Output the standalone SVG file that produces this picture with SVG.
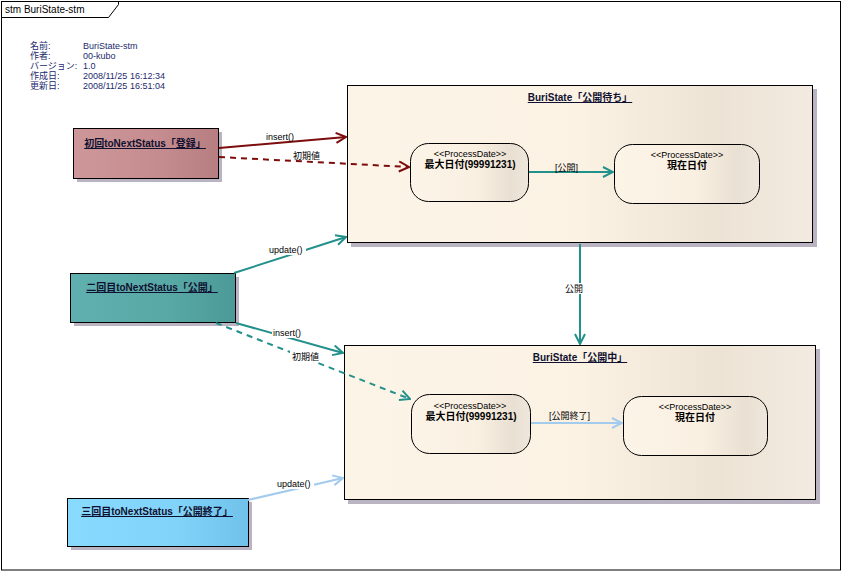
<svg xmlns="http://www.w3.org/2000/svg" width="842" height="572" viewBox="0 0 842 572">
  <defs>
    <style>
      text { font-family: "Liberation Sans", "Noto Sans CJK JP", sans-serif; font-size: 9px; fill: #000; }
      .meta { fill: #1c2a6e; font-size: 9px; }
      .title { font-weight: bold; font-size: 10px; text-decoration: underline; fill: #101030; }
      .stereo { font-size: 9px; text-anchor: middle; }
      .sname { font-weight: bold; font-size: 10px; text-anchor: middle; }
      .lbl { font-size: 9px; }
      .frame { fill: none; stroke: #000; stroke-width: 1; }
      .shadow { fill: #b9b3c2; }
      .box { stroke: #000; stroke-width: 1; }
      .state { stroke: #000; stroke-width: 1; }
      .red { stroke: #7d0c0c; stroke-width: 2; fill: none; }
      .teal { stroke: #22908b; stroke-width: 2; fill: none; }
      .sky { stroke: #a2cbee; stroke-width: 2; fill: none; }
      .dash { stroke-dasharray: 6 5; }
    </style>
    <linearGradient id="gPink" x1="0" y1="0" x2="1" y2="0">
      <stop offset="0" stop-color="#cd979a"/>
      <stop offset="0.6" stop-color="#c58c8f"/>
      <stop offset="1" stop-color="#b67e81"/>
    </linearGradient>
    <linearGradient id="gTeal" x1="0" y1="0" x2="1" y2="0">
      <stop offset="0" stop-color="#5fb0ae"/>
      <stop offset="0.6" stop-color="#58a8a6"/>
      <stop offset="1" stop-color="#4c9a98"/>
    </linearGradient>
    <linearGradient id="gSky" x1="0" y1="0" x2="1" y2="0">
      <stop offset="0" stop-color="#88daff"/>
      <stop offset="0.6" stop-color="#82d3fa"/>
      <stop offset="1" stop-color="#70c2ea"/>
    </linearGradient>
    <linearGradient id="gCream" x1="0" y1="0" x2="1" y2="0">
      <stop offset="0" stop-color="#fcf4e7"/>
      <stop offset="0.5" stop-color="#fbf2e4"/>
      <stop offset="0.8" stop-color="#ede3d5"/>
      <stop offset="1" stop-color="#f3ebe1"/>
    </linearGradient>
    <linearGradient id="gInner" x1="0" y1="0" x2="1" y2="0">
      <stop offset="0" stop-color="#fcf4e7"/>
      <stop offset="0.55" stop-color="#f9f0e2"/>
      <stop offset="0.85" stop-color="#e9e0d3"/>
      <stop offset="1" stop-color="#efe7dc"/>
    </linearGradient>
    <marker id="arRed" viewBox="0 0 12 12" refX="11" refY="6" markerWidth="12" markerHeight="12" markerUnits="userSpaceOnUse" orient="auto">
      <path d="M1,1 L11,6 L1,11" fill="none" stroke="#7d0c0c" stroke-width="2"/>
    </marker>
    <marker id="arTeal" viewBox="0 0 12 12" refX="11" refY="6" markerWidth="12" markerHeight="12" markerUnits="userSpaceOnUse" orient="auto">
      <path d="M1,1 L11,6 L1,11" fill="none" stroke="#22908b" stroke-width="2"/>
    </marker>
    <marker id="arSky" viewBox="0 0 12 12" refX="11" refY="6" markerWidth="12" markerHeight="12" markerUnits="userSpaceOnUse" orient="auto">
      <path d="M1,1 L11,6 L1,11" fill="none" stroke="#a2cbee" stroke-width="2"/>
    </marker>
  </defs>

  <rect width="842" height="572" fill="#fff"/>

  <!-- diagram frame and name tab -->
  <g id="frame">
    <rect class="frame" x="1.5" y="1.5" width="839" height="568.5"/>
    <path class="frame" d="M1.5,17.5 H108.5 L118.5,4.5 V1.5"/>
    <text x="5" y="13" style="font-size:10px">stm BuriState-stm</text>
  </g>

  <!-- document properties -->
  <g id="properties">
    <text class="meta" x="30" y="49">名前:</text>
    <text class="meta" x="83" y="49">BuriState-stm</text>
    <text class="meta" x="30" y="59">作者:</text>
    <text class="meta" x="83" y="59">00-kubo</text>
    <text class="meta" x="30" y="69">バージョン:</text>
    <text class="meta" x="83" y="69">1.0</text>
    <text class="meta" x="30" y="79">作成日:</text>
    <text class="meta" x="83" y="79">2008/11/25 16:12:34</text>
    <text class="meta" x="30" y="89">更新日:</text>
    <text class="meta" x="83" y="89">2008/11/25 16:51:04</text>
  </g>

  <!-- composite states -->
  <g id="state-waiting">
    <rect class="shadow" x="351" y="89" width="466" height="158"/>
    <rect class="state" x="347.5" y="85.5" width="465" height="157" fill="url(#gCream)"/>
    <text class="title" x="580" y="101" text-anchor="middle">BuriState「公開待ち」</text>
  </g>
  <g id="state-open">
    <rect class="shadow" x="348" y="349" width="472" height="155"/>
    <rect class="state" x="344.5" y="345.5" width="471" height="154" fill="url(#gCream)"/>
    <text class="title" x="580" y="361" text-anchor="middle">BuriState「公開中」</text>
  </g>

  <!-- inner states of 公開待ち -->
  <g id="waiting-max">
    <rect class="state" x="410.5" y="143.5" width="118" height="58" rx="18" fill="url(#gInner)"/>
    <text class="stereo" x="470" y="157">&lt;&lt;ProcessDate&gt;&gt;</text>
    <text class="sname" x="470" y="168">最大日付(99991231)</text>
  </g>
  <g id="waiting-now">
    <rect class="state" x="614.5" y="144.5" width="145" height="59" rx="18" fill="url(#gInner)"/>
    <text class="stereo" x="687" y="158">&lt;&lt;ProcessDate&gt;&gt;</text>
    <text class="sname" x="687" y="169">現在日付</text>
  </g>

  <!-- inner states of 公開中 -->
  <g id="open-max">
    <rect class="state" x="411.5" y="394.5" width="119" height="59" rx="18" fill="url(#gInner)"/>
    <text class="stereo" x="470" y="409">&lt;&lt;ProcessDate&gt;&gt;</text>
    <text class="sname" x="471" y="420">最大日付(99991231)</text>
  </g>
  <g id="open-now">
    <rect class="state" x="623.5" y="396.5" width="144" height="59" rx="18" fill="url(#gInner)"/>
    <text class="stereo" x="695" y="410">&lt;&lt;ProcessDate&gt;&gt;</text>
    <text class="sname" x="695" y="421">現在日付</text>
  </g>

  <!-- status objects -->
  <g id="first-status">
    <rect class="shadow" x="77" y="132" width="145" height="50"/>
    <rect class="box" x="73.5" y="128.5" width="145" height="50" fill="url(#gPink)"/>
    <text class="title" x="145" y="147" text-anchor="middle">初回toNextStatus「登録」</text>
  </g>
  <g id="second-status">
    <rect class="shadow" x="74" y="277" width="165" height="49"/>
    <rect class="box" x="70.5" y="273.5" width="165" height="49" fill="url(#gTeal)"/>
    <text class="title" x="152" y="291" text-anchor="middle">二回目toNextStatus「公開」</text>
  </g>
  <g id="third-status">
    <rect class="shadow" x="71" y="502" width="181" height="48"/>
    <rect class="box" x="67.5" y="498.5" width="181" height="48" fill="url(#gSky)"/>
    <text class="title" x="157" y="515" text-anchor="middle">三回目toNextStatus「公開終了」</text>
  </g>

  <!-- connectors -->
  <g id="connectors">
    <!-- from 初回 -->
    <path class="red" d="M219,148 L346,137" marker-end="url(#arRed)"/>
    <text class="lbl" x="266" y="140">insert()</text>
    <path class="red dash" d="M219,157 L409,167" marker-end="url(#arRed)"/>
    <text class="lbl" x="293" y="159">初期値</text>

    <!-- from 二回目 -->
    <path class="teal" d="M234,273 L346,237" marker-end="url(#arTeal)"/>
    <rect x="268" y="245" width="38" height="10" fill="#fff"/>
    <text class="lbl" x="269" y="253">update()</text>
    <path class="teal" d="M236,323 L343,353" marker-end="url(#arTeal)"/>
    <rect x="272" y="328" width="34" height="10" fill="#fff"/>
    <text class="lbl" x="273" y="336">insert()</text>
    <path class="teal dash" d="M216,323 L410,399" marker-end="url(#arTeal)"/>
    <rect x="290" y="351" width="34" height="11" fill="#fff"/>
    <text class="lbl" x="292" y="360">初期値</text>

    <!-- from 三回目 -->
    <path class="sky" d="M248,500 L343,478" marker-end="url(#arSky)"/>
    <rect x="276" y="479" width="38" height="10" fill="#fff"/>
    <text class="lbl" x="277" y="487">update()</text>

    <!-- internal transitions -->
    <path class="teal" d="M529,172 L613,172" marker-end="url(#arTeal)"/>
    <text class="lbl" x="555" y="171">[公開]</text>
    <path class="sky" d="M531,423 L622,423" marker-end="url(#arSky)"/>
    <text class="lbl" x="549" y="419">[公開終了]</text>

    <!-- 公開待ち to 公開中 -->
    <path class="teal" d="M580,244 L580,344" marker-end="url(#arTeal)"/>
    <rect x="564" y="283" width="21" height="11" fill="#fff"/>
    <text class="lbl" x="565" y="292">公開</text>
  </g>
</svg>
